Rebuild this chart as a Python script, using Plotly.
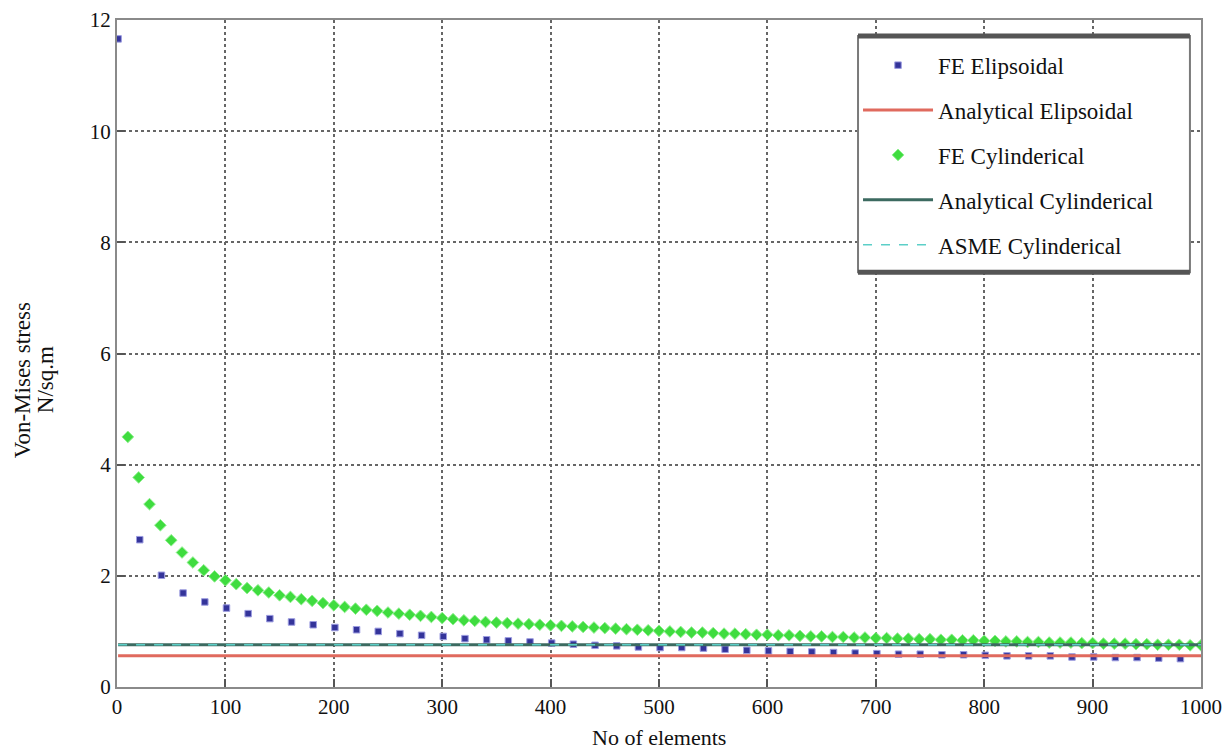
import plotly.graph_objects as go

# ---- data ----
fe_elip_x = list(range(1, 1000, 20))
fe_elip_y = [11.66, 2.65, 2.01, 1.69, 1.53, 1.42, 1.32, 1.23, 1.17, 1.12,
             1.07, 1.03, 1.00, 0.96, 0.93, 0.91, 0.87, 0.85, 0.83, 0.81,
             0.79, 0.77, 0.75, 0.74, 0.72, 0.71, 0.71, 0.70, 0.68, 0.66,
             0.65, 0.64, 0.63, 0.62, 0.61, 0.60, 0.59, 0.59, 0.58, 0.58,
             0.57, 0.56, 0.56, 0.56, 0.54, 0.54, 0.53, 0.53, 0.52, 0.51]

fe_cyl_x = list(range(10, 1001, 10))
fe_cyl_y = [4.50, 3.77, 3.29, 2.91, 2.64, 2.42, 2.24, 2.10, 1.99, 1.92,
            1.85, 1.78, 1.74, 1.70, 1.65, 1.62, 1.58, 1.55, 1.51, 1.47,
            1.44, 1.41, 1.39, 1.37, 1.34, 1.32, 1.30, 1.28, 1.26, 1.24,
            1.22, 1.20, 1.19, 1.17, 1.16, 1.15, 1.14, 1.13, 1.12, 1.11,
            1.10, 1.09, 1.08, 1.07, 1.06, 1.05, 1.04, 1.03, 1.02, 1.01,
            1.00, 0.99, 0.98, 0.98, 0.97, 0.96, 0.96, 0.95, 0.94, 0.94,
            0.93, 0.93, 0.92, 0.91, 0.91, 0.90, 0.90, 0.89, 0.89, 0.88,
            0.88, 0.87, 0.87, 0.86, 0.86, 0.85, 0.85, 0.84, 0.84, 0.83,
            0.83, 0.82, 0.82, 0.81, 0.81, 0.80, 0.80, 0.80, 0.79, 0.79,
            0.78, 0.78, 0.78, 0.77, 0.77, 0.76, 0.76, 0.76, 0.75, 0.75]

line_x = [1, 1000]
analytical_elip = 0.56
analytical_cyl = 0.76
asme_cyl = 0.76

x_ticks = list(range(0, 1001, 100))
y_ticks = list(range(0, 13, 2))

x_title = "No of elements"
y_title_lines = ["Von-Mises stress", "N/sq.m"]

FONT = "Liberation Serif"
TXT = "#111111"

fig = go.Figure()
fig.add_trace(go.Scatter(
    x=fe_elip_x, y=fe_elip_y, mode="markers", name="FE Elipsoidal",
    legendgroup="a",
    marker=dict(symbol="square", size=6.5, color="#34349a",
                line=dict(color="#9c9ce0", width=1))))
fig.add_trace(go.Scatter(
    x=line_x, y=[analytical_elip] * 2, mode="lines", name="Analytical Elipsoidal",
    legendgroup="b",
    line=dict(color="#e06a5e", width=3)))
fig.add_trace(go.Scatter(
    x=fe_cyl_x, y=fe_cyl_y, mode="markers", name="FE Cylinderical",
    legendgroup="c",
    marker=dict(symbol="diamond", size=9, color="#3fdc3f",
                line=dict(color="#8ff08f", width=1))))
fig.add_trace(go.Scatter(
    x=line_x, y=[analytical_cyl] * 2, mode="lines", name="Analytical Cylinderical",
    legendgroup="d",
    line=dict(color="#3c6a60", width=3)))
fig.add_trace(go.Scatter(
    x=line_x, y=[asme_cyl] * 2, mode="lines", name="ASME Cylinderical",
    legendgroup="e",
    line=dict(color="#5ccfc8", width=1.5, dash="dash")))

axis_common = dict(
    showline=True, linecolor="#8a8a8a", linewidth=2, mirror=True,
    showgrid=True, gridcolor="#666666", griddash="dot", gridwidth=1.5,
    ticks="inside", ticklen=8, tickcolor="#555555", tickwidth=2,
    zeroline=False, automargin=False,
    tickfont=dict(family=FONT, size=21, color=TXT),
)

fig.update_xaxes(range=[0, 1000], tickvals=x_ticks, **axis_common)
fig.update_yaxes(range=[0, 12], tickvals=y_ticks, **axis_common)

# axis titles as annotations (placed to match the reference)
fig.add_annotation(text=x_title, xref="paper", yref="paper", x=0.5, y=-0.075,
                   xanchor="center", yanchor="middle", showarrow=False,
                   font=dict(family=FONT, size=22, color=TXT))
for txt, px in zip(y_title_lines, [22, 45]):
    fig.add_annotation(text=txt, xref="paper", yref="paper",
                       x=(px - 117) / 1084, y=0.46, textangle=-90,
                       xanchor="center", yanchor="middle", showarrow=False,
                       font=dict(family=FONT, size=23, color=TXT))

# legend frame (drawn as shapes so the top/bottom bars can be heavy)
lx0, lx1, ly0, ly1 = 0.6836, 0.9898, 0.622, 0.976
fig.add_shape(type="rect", xref="paper", yref="paper", x0=lx0, x1=lx1, y0=ly0, y1=ly1,
              fillcolor="white", line=dict(color="#7a7a7a", width=2), layer="above")
fig.add_shape(type="line", xref="paper", yref="paper", x0=lx0, x1=lx1, y0=ly1, y1=ly1,
              line=dict(color="#555555", width=5), layer="above")
fig.add_shape(type="line", xref="paper", yref="paper", x0=lx0, x1=lx1, y0=ly0, y1=ly0,
              line=dict(color="#555555", width=5), layer="above")

fig.update_layout(
    width=1232, height=751,
    margin=dict(l=117, r=31, t=20, b=64),
    plot_bgcolor="white", paper_bgcolor="white",
    font=dict(family=FONT, size=21, color=TXT),
    legend=dict(
        x=0.6836, y=0.9645, xanchor="left", yanchor="top",
        bgcolor="rgba(0,0,0,0)", borderwidth=0,
        font=dict(family=FONT, size=23, color=TXT),
        tracegroupgap=12, itemwidth=70,
    ),
)

fig.write_html("out.html")
